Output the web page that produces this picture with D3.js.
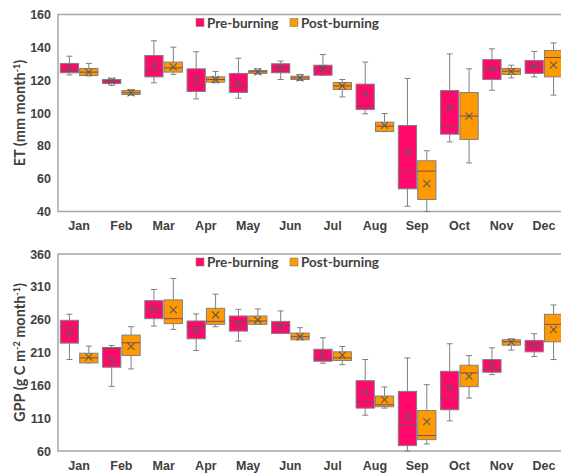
<!DOCTYPE html>
<html>
<head>
<meta charset="utf-8">
<script src="https://cdn.jsdelivr.net/npm/d3@7"></script>
<style>
  body { margin: 0; background: #fff; }
  svg { display: block; font-family: Lato, "Open Sans", sans-serif; }
  .tick text { font-weight: bold; fill: #404040; }
</style>
</head>
<body>
<script>
// month categories
var months = ['Jan', 'Feb', 'Mar', 'Apr', 'May', 'Jun', 'Jul', 'Aug', 'Sep', 'Oct', 'Nov', 'Dec'];
var seriesNames = ['Pre-burning', 'Post-burning'];

// each entry: [min, q1, median, q3, max, mean]
var etPre = [
  [123.2, 124.5, 125.8, 130.2, 134.6, 127.5],
  [116.8, 118.0, 119.4, 120.4, 121.2, 119.4],
  [118.4, 122.0, 125.5, 135.0, 144.0, 129.5],
  [108.6, 113.1, 116.8, 126.9, 137.3, 120.8],
  [109.0, 112.5, 115.5, 124.1, 133.4, 118.8],
  [120.4, 124.5, 127.5, 130.0, 131.6, 127.1],
  [123.0, 123.0, 127.2, 129.1, 135.6, 127.1],
  [99.5, 102.1, 104.2, 117.6, 131.0, 111.7],
  [43.2, 53.8, 64.2, 92.4, 121.0, 76.1],
  [82.4, 87.1, 91.8, 113.7, 136.0, 103.1],
  [113.9, 120.4, 126.9, 132.6, 139.1, 126.9],
  [122.0, 124.1, 128.5, 132.0, 137.5, 128.5]
];
var etPost = [
  [122.6, 122.8, 124.9, 127.1, 130.2, 124.9],
  [110.9, 111.3, 112.3, 113.7, 114.3, 112.3],
  [123.5, 124.9, 127.5, 131.0, 140.1, 128.1],
  [118.4, 118.8, 120.4, 122.0, 125.3, 120.4],
  [123.7, 124.1, 125.1, 125.9, 126.9, 125.1],
  [119.8, 120.4, 121.4, 122.4, 123.5, 121.4],
  [109.8, 114.3, 116.5, 118.6, 120.4, 116.5],
  [88.7, 88.7, 92.0, 94.4, 99.7, 92.4],
  [40.0, 47.3, 64.6, 70.9, 77.0, 57.0],
  [69.6, 83.9, 98.1, 112.5, 126.9, 98.1],
  [121.4, 123.5, 125.5, 127.1, 129.1, 125.3],
  [110.9, 122.0, 133.8, 138.1, 142.7, 129.1]
];
var gppPre = [
  [199.3, 224.3, 249.8, 259.0, 268.2, 239.0],
  [158.5, 187.6, 216.6, 217.6, 220.7, 199.3],
  [250.3, 261.5, 276.3, 289.0, 305.9, 276.3],
  [213.0, 230.9, 249.8, 258.0, 268.7, 243.2],
  [227.3, 242.6, 258.0, 265.6, 275.8, 253.9],
  [239.0, 239.0, 252.0, 257.4, 273.3, 250.3],
  [193.7, 196.7, 199.0, 215.0, 232.4, 208.0],
  [114.6, 125.3, 135.0, 167.1, 199.3, 149.8],
  [60.0, 68.2, 99.3, 150.8, 201.8, 113.6],
  [105.9, 122.8, 140.6, 181.4, 223.3, 155.9],
  [176.3, 179.9, 184.0, 199.3, 217.1, 191.6],
  [203.9, 211.0, 222.3, 228.4, 238.6, 220.7]
];
var gppPost = [
  [194.2, 194.2, 201.8, 208.9, 219.7, 202.9],
  [185.0, 205.4, 224.8, 236.5, 249.3, 219.2],
  [245.2, 253.9, 261.5, 290.1, 322.8, 274.8],
  [249.3, 252.9, 257.4, 277.3, 298.8, 267.1],
  [252.9, 252.9, 258.0, 265.6, 276.3, 259.5],
  [229.4, 229.4, 234.0, 239.6, 247.8, 234.0],
  [191.6, 197.8, 201.8, 211.0, 219.2, 206.0],
  [125.3, 127.4, 130.4, 143.7, 157.5, 138.1],
  [70.7, 77.3, 83.5, 121.7, 161.0, 104.9],
  [140.6, 158.0, 178.9, 190.6, 205.4, 173.8],
  [213.6, 221.2, 226.3, 229.4, 230.9, 225.8],
  [199.3, 226.3, 252.9, 268.2, 282.4, 244.8]
];
var etTicks = [40, 60, 80, 100, 120, 140, 160];
var gppTicks = [60, 110, 160, 210, 260, 310, 360];

var colors = ['#ff0a6c', '#ff9900'];
var frameColor = '#a6a6a6';
var lineColor = '#808080';

var W = 561, H = 473;
var svg = d3.select('body').append('svg').attr('width', W).attr('height', H);

var x = d3.scaleBand().domain(months).range([58, 565]);
var sub = d3.scaleBand().domain(seriesNames).range([0, x.bandwidth()]).paddingInner(0.06).paddingOuter(0.12);

function panel(top, bottom, domain, ticks, pre, post, labelParts) {
  var y = d3.scaleLinear().domain(domain).range([bottom, top]);
  var g = svg.append('g');

  // frame (right side runs off the picture)
  g.append('path')
    .attr('d', 'M' + 565 + ',' + top + 'H' + 58 + 'V' + bottom + 'H' + 565)
    .attr('fill', 'none').attr('stroke', frameColor).attr('stroke-width', 1.5);

  var yAxis = g.append('g').attr('transform', 'translate(58,0)')
    .call(d3.axisLeft(y).tickValues(ticks).tickSize(0).tickPadding(7));
  yAxis.select('.domain').remove();
  yAxis.selectAll('text').style('font-size', '12.5px');

  var xAxis = g.append('g').attr('transform', 'translate(0,' + bottom + ')')
    .call(d3.axisBottom(x).tickSize(0).tickPadding(10));
  xAxis.select('.domain').remove();
  xAxis.selectAll('text').style('font-size', '12.5px');

  [pre, post].forEach(function (data, si) {
    var bw = sub.bandwidth();
    var grp = g.append('g').selectAll('g').data(data).enter().append('g')
      .attr('transform', function (d, i) { return 'translate(' + (x(months[i]) + sub(seriesNames[si])) + ',0)'; });
    // whisker
    grp.append('line')
      .attr('x1', bw / 2).attr('x2', bw / 2)
      .attr('y1', function (d) { return y(d[0]); }).attr('y2', function (d) { return y(d[4]); })
      .attr('stroke', lineColor).attr('stroke-width', 1);
    grp.append('line')
      .attr('x1', bw / 2 - 3).attr('x2', bw / 2 + 3)
      .attr('y1', function (d) { return y(d[0]); }).attr('y2', function (d) { return y(d[0]); })
      .attr('stroke', lineColor);
    grp.append('line')
      .attr('x1', bw / 2 - 3).attr('x2', bw / 2 + 3)
      .attr('y1', function (d) { return y(d[4]); }).attr('y2', function (d) { return y(d[4]); })
      .attr('stroke', lineColor);
    // box
    grp.append('rect')
      .attr('x', 0).attr('width', bw)
      .attr('y', function (d) { return y(d[3]); })
      .attr('height', function (d) { return Math.max(1, y(d[1]) - y(d[3])); })
      .attr('fill', colors[si]).attr('stroke', lineColor).attr('stroke-width', 1);
    // median
    grp.append('line')
      .attr('x1', 0).attr('x2', bw)
      .attr('y1', function (d) { return y(d[2]); }).attr('y2', function (d) { return y(d[2]); })
      .attr('stroke', '#7a4a5a').attr('stroke-width', 1);
    // mean marker
    grp.append('path')
      .attr('d', function (d) {
        var cx = bw / 2, cy = y(d[5]), r = 3.5;
        return 'M' + (cx - r) + ',' + (cy - r) + 'L' + (cx + r) + ',' + (cy + r) +
               'M' + (cx - r) + ',' + (cy + r) + 'L' + (cx + r) + ',' + (cy - r);
      })
      .attr('stroke', '#5a5a5a').attr('stroke-width', 1.1).attr('fill', 'none');
  });

  // legend
  var lg = g.append('g').attr('transform', 'translate(0,' + (top + 8) + ')');
  var lx = [196, 290];
  seriesNames.forEach(function (n, i) {
    lg.append('rect').attr('x', lx[i]).attr('y', -4).attr('width', 8).attr('height', 8)
      .attr('fill', colors[i]).attr('stroke', lineColor).attr('stroke-width', 0.6);
    lg.append('text').attr('x', lx[i] + 11).attr('y', 5)
      .attr('font-size', '13.5px').attr('font-weight', 'bold').attr('fill', '#404040').text(n);
  });

  // y label
  var t = g.append('text')
    .attr('transform', 'translate(25,' + ((top + bottom) / 2) + ') rotate(-90)')
    .attr('text-anchor', 'middle').attr('font-size', '14.5px').attr('font-weight', 'bold').attr('fill', '#404040');
  labelParts.forEach(function (p) {
    var ts = t.append('tspan').text(p[0]);
    if (p[1]) ts.attr('baseline-shift', 'super').attr('font-size', '9px');
  });
}

panel(14.5, 211.5, [40, 160], etTicks, etPre, etPost, [['ET (mm month'], ['-1', true], [')']]);
panel(254, 451, [60, 360], gppTicks, gppPre, gppPost, [['GPP (g C m'], ['-2', true], [' month'], ['-1', true], [')']]);
</script>
</body>
</html>
